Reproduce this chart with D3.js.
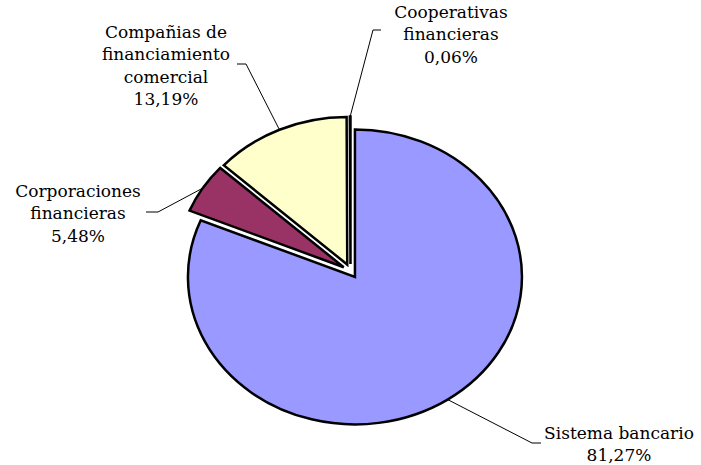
<!DOCTYPE html>
<html>
<head>
<meta charset="utf-8">
<script src="https://cdn.jsdelivr.net/npm/d3@7"></script>
<style>
  body { margin: 0; background: #fff; }
  svg text { font-family: "DejaVu Serif", serif; font-size: 17px; fill: #000; }
</style>
</head>
<body>
<div id="chart"></div>
<script>
// slice data, clockwise from 12 o'clock
const categories = ["Sistema bancario", "Corporaciones financieras", "Compañias de financiamiento comercial", "Cooperativas financieras"];
const shares = [81.27, 5.48, 13.19, 0.06];
const labelLines = [
  ["Sistema bancario", "81,27%"],
  ["Corporaciones", "financieras", "5,48%"],
  ["Compañias de", "financiamiento", "comercial", "13,19%"],
  ["Cooperativas", "financieras", "0,06%"]
];
const colors = ["#9999ff", "#993366", "#ffffcc", "#ccffff"];

let width = 701, height = 465;
let cx = 350.5, cy = 271, rx = 167, ry = 147.5;
let k = ry / rx;       // pie is drawn a bit squashed, like the original
let explode = 8;

// label placement: text center x, first baseline y, leader knee and end
let labelPos = [
  {x: 619, y: 439, knee: [532, 443], end: [541, 443]},
  {x: 78, y: 197, knee: [158, 212], end: [146, 212]},
  {x: 166, y: 38, knee: [246, 64], end: [237, 64]},
  {x: 451, y: 18, knee: [373, 30], end: [381, 30]}
];

let svg = d3.select("#chart").append("svg")
    .attr("width", width)
    .attr("height", height);

let pie = d3.pie().sort(null).value(d => d);
let arcs = pie(shares);

let arc = d3.arc().innerRadius(0).outerRadius(rx);

let g = svg.append("g").attr("transform", `translate(${cx},${cy})`);

let offset = (a) => {
  let mid = (a.startAngle + a.endAngle) / 2;
  return [Math.sin(mid) * explode, -Math.cos(mid) * explode * k];
};

g.selectAll("path.slice")
  .data(arcs)
  .enter()
  .append("path")
  .attr("class", "slice")
  .attr("d", arc)
  .attr("transform", d => {
    let o = offset(d);
    return `translate(${o[0]},${o[1]}) scale(1,${k})`;
  })
  .attr("fill", (d, i) => colors[i])
  .attr("stroke", "#000")
  .attr("stroke-width", 2.5)
  .attr("stroke-linejoin", "miter")
  .attr("vector-effect", "non-scaling-stroke");

// leader lines start on the outer edge at the middle of each slice
let leaders = svg.append("g");
arcs.forEach((a, i) => {
  let mid = (a.startAngle + a.endAngle) / 2;
  let o = offset(a);
  let start = [cx + o[0] + Math.sin(mid) * rx, cy + o[1] - Math.cos(mid) * ry];
  let p = labelPos[i];
  leaders.append("path")
    .attr("d", d3.line()([start, p.knee, p.end]))
    .attr("fill", "none")
    .attr("stroke", "#000")
    .attr("stroke-width", 1);
});

// labels
let labels = svg.append("g");
labelLines.forEach((lines, i) => {
  let p = labelPos[i];
  let t = labels.append("text")
    .attr("text-anchor", "middle")
    .attr("x", p.x)
    .attr("y", p.y);
  lines.forEach((s, j) => {
    t.append("tspan")
      .attr("x", p.x)
      .attr("dy", j == 0 ? 0 : 22.3)
      .text(s);
  });
});
</script>
</body>
</html>
